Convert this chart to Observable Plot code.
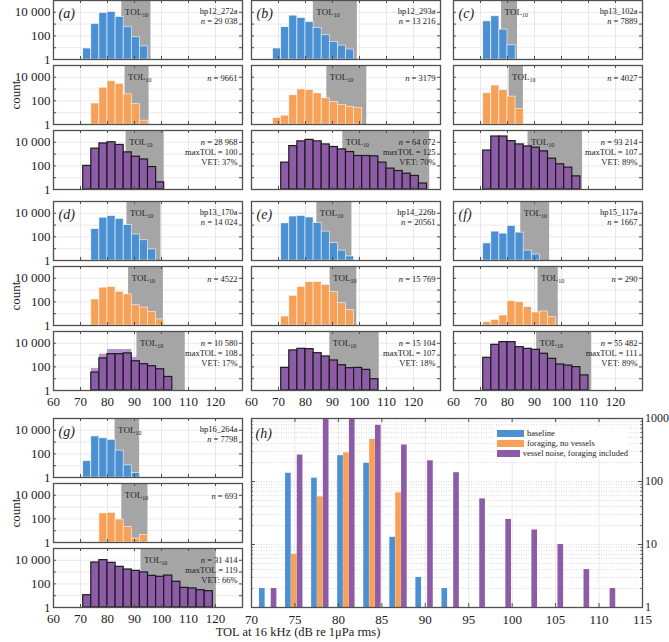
<!DOCTYPE html>
<html><head><meta charset="utf-8">
<script src="https://cdn.jsdelivr.net/npm/d3@7"></script>
<script src="https://cdn.jsdelivr.net/npm/@observablehq/plot@0.6"></script>
<style>
body{margin:0;background:#fff;}
#chart{position:relative;width:669px;height:642px;font-family:"Liberation Serif",serif;overflow:hidden;}
#chart svg{position:absolute;overflow:visible;}
.legend{position:absolute;background:#fff;font-family:"Liberation Serif",serif;font-size:8.5px;color:#222;}
.legend div{display:flex;align-items:center;height:10px;white-space:nowrap;}
.legend span.sw{display:inline-block;width:27px;height:7px;margin-right:3px;}
.xtitle{position:absolute;font-family:"Liberation Serif",serif;font-size:12.5px;color:#222;white-space:nowrap;transform:translateX(-50%);}
</style></head><body><div id="chart"></div>
<script>
// ---------- data ----------
const binEdges = [68,71,74,77,80,83,86,89,92,95,98,101,104,107,110,113,116,119,122,125];
const panelIds = ["a","b","c","d","e","f","g"];
const deployments = ["hp12_272a","hp12_293a","hp13_102a","hp13_170a","hp14_226b","hp15_117a","hp16_264a"];
const nBaseline = ["29 038","13 216","7889","14 024","20561","1667","7798"];
const nForaging = ["9661","3179","4027","4522","15 769","290","693"];
const nVessel = ["28 968","64 072","93 214","10 580","15 104","55 482","31 414"];
const maxTOL = [100,125,107,108,107,111,119];
const vetPct = [37,70,89,17,18,89,66];
const tol10Baseline = [85.3,82.9,77.8,87.2,84.2,84.9,82.8];
const tolEndBaseline = [96.1,99.2,83.7,99.8,97.2,95.6,91.9];
const tol10Foraging = [86.5,87.9,80.6,87.8,89.1,91.3,85.3];
const tolEndForaging = [95.4,102.7,85.9,100.7,99,98.8,95];
const tol10Vessel = [86.9,93.8,87.6,90.9,89,90.8,92.4];
const tolEndVessel = [101,126,107.8,108.8,107.3,111.2,120.3];

const baselineA = [0,8.5,1030,8800,10700,4000,540,77,13];
const baselineB = [8.5,540,5200,3300,1500,470,114,31,15,7];
const baselineC = [0,1700,4600,340,16];
const baselineD = [0,0,450,4200,5900,3300,1000,160,52,8.8];
const baselineE = [0,1400,5300,6000,4400,1500,280,30,6.8,2.2];
const baselineF = [0,28,280,190,830,230,6.8,3.2];
const baselineG = [0,24,3000,2100,1560,190,10.7,2.4];

const foragingA = [0,0,60,1300,4600,2800,360,53,2.1];
const foragingB = [3.6,5.6,300,940,830,440,166,83,46,32,26];
const foragingC = [0,440,2000,830,230,20];
const foragingD = [0,0,160,1600,1800,720,430,52,33,14,3.3];
const foragingE = [0,5.8,330,1800,4700,4700,2800,670,78,21];
const foragingF = [0,1.9,3,7,115,95,36,12.6,15.5,5.1];
const foragingG = [0,0,0,290,330,89,21,2.2,4.2];

const vesselA = [0,100,2900,8000,10000,6000,1400,600,350,80,4];
const vesselB = [0,190,4800,12000,16000,12000,6600,4000,2500,1500,690,690,650,190,59,37,22,14,3.2];
const vesselC = [0,2000,31000,31000,12600,6600,4500,3500,1700,410,136,71,13];
const vesselD = [0,0,33,520,1200,1200,1400,300,170,114,63,14];
const vesselE = [0,83,2500,3400,3200,1450,760,350,140,78,83,56,9];
const vesselF = [0,590,7400,12500,12500,4700,3400,2800,1300,480,160,130,95,19];
const vesselG = [0,11,6500,10300,6100,2800,1660,1280,930,480,400,510,150,46,41,29,24];
const vesselAllD = [0,0,72,1200,3000,3000,3000,630,300,140,88,14];

// panel (h)
const binsH = [71,74,77,80,83,86,89,92,95,98,101,104,107,110];
const baselineH = [2,135,113,257,195,13,3,2,0,0,0,0,0,0];
const foragingH = [0,7,57,285,465,66,0,0,0,0,0,0,0,0];
const vesselH = [2,263,1500,1500,780,380,213,138,53,25,17,10,4,2];
const seriesNames = ["baseline","foraging, no vessels","vessel noise, foraging included"];

const xGridTicks = [70,80,90,100,110,120];
const xTickLabels = [60,70,80,90,100,110,120];
const yTickValues = [1,100,10000];
const yTickLabels = ["1","100","10 000"];
const yDecades = [10,100,1000,10000];
const hXTicks = [70,75,80,85,90,95,100,105,110,115];
const hYTicks = [1,10,100,1000];

// ---------- style / layout ----------
const colors = ["#4a90d2","#f7a158","#8c5ca6"];
const lightPurple = "#b596ca";
const shadeColor = "#a5a5a5";
const gridColor = "#e3e3e3";
const frameColor = "#4f4f4f";
const font = "Liberation Serif";
const colLeft = [53, 251, 453];
const groupTops = [[0,65,130],[201,266,331],[418,483,548]];
const W = 189, H = 59;

const baselineCounts = [baselineA,baselineB,baselineC,baselineD,baselineE,baselineF,baselineG];
const foragingCounts = [foragingA,foragingB,foragingC,foragingD,foragingE,foragingF,foragingG];
const vesselCounts = [vesselA,vesselB,vesselC,vesselD,vesselE,vesselF,vesselG];
const lightCounts = [null,null,null,vesselAllD,null,null,null];

const chart = document.getElementById("chart");

function decorate(svg) {
  d3.select(svg).selectAll("text").each(function() {
    if (this.querySelector("tspan")) return;
    const t = this.textContent;
    const el = d3.select(this);
    if (t.startsWith("n = ")) {
      el.text(null);
      el.append("tspan").attr("font-style","italic").text("n");
      el.append("tspan").text(t.slice(1));
    } else if (t === "TOL10") {
      el.text(null);
      el.append("tspan").text("TOL");
      el.append("tspan").attr("font-size","6").attr("dy","2.5").text("10");
    }
  });
}

function place(svg, left, top) {
  svg.style.left = left + "px";
  svg.style.top = top + "px";
  decorate(svg);
  chart.appendChild(svg);
}

function barsFrom(counts) {
  return counts.map((c,i) => ({lo: binEdges[i], hi: binEdges[i+1], count: c})).filter(d => d.count > 0);
}

function smallPanel(p, row) {
  const group = Math.floor(p / 3);
  const col = p % 3;
  const left = colLeft[col];
  const top = groupTops[group][row];
  const counts = [baselineCounts, foragingCounts, vesselCounts][row][p];
  const tStart = [tol10Baseline, tol10Foraging, tol10Vessel][row][p];
  const tEnd = [tolEndBaseline, tolEndForaging, tolEndVessel][row][p];
  const marks = [
    Plot.gridX(xGridTicks, {stroke: gridColor, strokeOpacity: 1, strokeWidth: 0.8}),
    Plot.gridY(yDecades, {stroke: gridColor, strokeOpacity: 1, strokeWidth: 0.8}),
    Plot.rect([{lo: tStart, hi: tEnd}], {x1: "lo", x2: "hi", y1: 1, y2: 1e5, fill: shadeColor})
  ];
  if (row === 2 && lightCounts[p]) {
    marks.push(Plot.rect(barsFrom(lightCounts[p]), {x1: "lo", x2: "hi", y1: 1, y2: "count", fill: lightPurple}));
  }
  marks.push(Plot.rect(barsFrom(counts), row === 2
    ? {x1: "lo", x2: "hi", y1: 1, y2: "count", fill: colors[2], stroke: "#1c1c1c", strokeWidth: 1.2}
    : {x1: "lo", x2: "hi", y1: 1, y2: "count", fill: colors[row], stroke: "#fff", strokeWidth: 0.7, strokeOpacity: 0.8}));
  marks.push(
    Plot.tickX(xGridTicks, {insetTop: H - 3, stroke: frameColor}),
    Plot.tickX(xGridTicks, {insetBottom: H - 3, stroke: frameColor}),
    Plot.tickY(yDecades, {insetRight: W - 3, stroke: frameColor}),
    Plot.tickY(yDecades, {insetLeft: W - 3, stroke: frameColor}),
    Plot.frame({stroke: frameColor, strokeWidth: 1.3}),
    Plot.text([{x: tStart, t: "TOL10"}], {x: "x", text: "t", frameAnchor: "top", dx: 3, dy: 8, textAnchor: "start", fontSize: 9, fill: "#222"})
  );
  if (row === 0) {
    marks.push(Plot.text([`(${panelIds[p]})`], {frameAnchor: "top-left", dx: 5, dy: 8, textAnchor: "start", fontSize: 14, fontStyle: "italic", fill: "#222"}));
  }
  let lines, offs;
  if (row === 0) { lines = [deployments[p], "n = " + nBaseline[p]]; offs = [7, 17]; }
  else if (row === 1) { lines = ["n = " + nForaging[p]]; offs = [9]; }
  else { lines = ["n = " + nVessel[p], "maxTOL = " + maxTOL[p], "VET: " + vetPct[p] + "%"]; offs = [8, 18, 28]; }
  lines.forEach((l, i) => marks.push(Plot.text([l], {frameAnchor: "top-right", dx: -5, dy: offs[i], textAnchor: "end", fontSize: 8.5, fill: "#222"})));
  if (col === 0) {
    const yAxisOpts = {ticks: yTickValues, anchor: "left", tickSize: 0, tickPadding: 3, fontSize: 13,
      tickFormat: d => yTickLabels[yTickValues.indexOf(d)], label: null};
    if (row === 1) Object.assign(yAxisOpts, {label: "count", labelAnchor: "center", labelOffset: 43, labelArrow: "none"});
    marks.push(Plot.axisY(yAxisOpts));
  }
  if (row === 2 && group >= 1) {
    marks.push(Plot.axisX({ticks: xTickLabels, anchor: "bottom", tickSize: 0, tickPadding: 6, fontSize: 13, tickFormat: d => String(d), label: null}));
  }
  const svg = Plot.plot({
    width: W, height: H, margin: 0,
    style: {overflow: "visible", fontFamily: font, fontSize: "13px", background: "none", color: "#222"},
    x: {domain: [60, 130], axis: null},
    y: {type: "log", domain: [1, 1e5], axis: null},
    marks: marks.filter(Boolean)
  });
  place(svg, left, top);
}

for (let p = 0; p < 7; p++) for (let r = 0; r < 3; r++) smallPanel(p, r);

// ---------- panel (h) ----------
const hW = 391, hH = 189;
const hOffsets = [-0.08, 0.6, 1.27];
const hWidth = 0.65;
function hBars(values, k) {
  return binsH.map((b, i) => ({lo: b + hOffsets[k], hi: b + hOffsets[k] + hWidth, v: values[i]})).filter(d => d.v > 0);
}
const minorLog = [1, 10, 100].flatMap(d => [2,3,4,5,6,7,8,9,10].map(k => k * d)).filter(v => v < 1000);
const hSvg = Plot.plot({
  width: hW, height: hH, margin: 0,
  style: {overflow: "visible", fontFamily: font, fontSize: "13px", background: "none", color: "#222"},
  x: {domain: [70, 115], axis: null},
  y: {type: "log", domain: [1, 1000], axis: null},
  marks: [
    Plot.gridX(hXTicks.slice(1, -1), {stroke: gridColor, strokeOpacity: 1, strokeWidth: 0.8}),
    Plot.gridY(minorLog, {stroke: "#c4c4c4", strokeOpacity: 1, strokeWidth: 0.6, strokeDasharray: "1,1.5"}),
    Plot.rect(hBars(baselineH, 0), {x1: "lo", x2: "hi", y1: 1, y2: "v", fill: colors[0], clip: true}),
    Plot.rect(hBars(foragingH, 1), {x1: "lo", x2: "hi", y1: 1, y2: "v", fill: colors[1], clip: true}),
    Plot.rect(hBars(vesselH, 2), {x1: "lo", x2: "hi", y1: 1, y2: "v", fill: colors[2], clip: true}),
    Plot.tickX(hXTicks, {insetTop: hH - 4, stroke: frameColor}),
    Plot.tickX(hXTicks, {insetBottom: hH - 4, stroke: frameColor}),
    Plot.tickY(minorLog, {insetRight: hW - 2, stroke: frameColor, strokeWidth: 0.7}),
    Plot.tickY(minorLog, {insetLeft: hW - 2, stroke: frameColor, strokeWidth: 0.7}),
    Plot.tickY(hYTicks, {insetRight: hW - 4, stroke: frameColor}),
    Plot.tickY(hYTicks, {insetLeft: hW - 4, stroke: frameColor}),
    Plot.frame({stroke: frameColor, strokeWidth: 1.3}),
    Plot.axisX({ticks: hXTicks, anchor: "bottom", tickSize: 0, tickPadding: 7, fontSize: 13, tickFormat: d => String(d), label: null}),
    Plot.axisY({ticks: hYTicks, anchor: "right", tickSize: 0, tickPadding: 2.5, fontSize: 12, tickFormat: d => String(d), label: null}),
    Plot.text(["(h)"], {frameAnchor: "top-left", dx: 4, dy: 10, textAnchor: "start", fontSize: 14, fontStyle: "italic", fill: "#222"})
  ]
});
place(hSvg, 251, 418);

// legend
const legend = document.createElement("div");
legend.className = "legend";
Object.assign(legend.style, {left: "494px", top: "427px", width: "134px", height: "32px", paddingTop: "1px"});
seriesNames.forEach((name, i) => {
  const row = document.createElement("div");
  const sw = document.createElement("span");
  sw.className = "sw";
  sw.style.background = colors[i];
  sw.style.marginLeft = "3px";
  row.appendChild(sw);
  row.appendChild(document.createTextNode(name));
  legend.appendChild(row);
});
chart.appendChild(legend);

// x-axis title
const xt = document.createElement("div");
xt.className = "xtitle";
xt.textContent = "TOL at 16 kHz (dB re 1μPa rms)";
Object.assign(xt.style, {left: "298px", top: "625px"});
chart.appendChild(xt);
</script>
</body></html>
